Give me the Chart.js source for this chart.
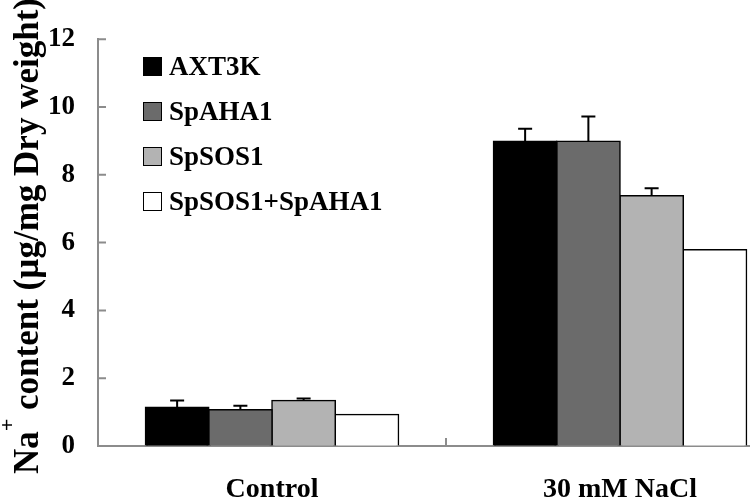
<!DOCTYPE html>
<html>
<head>
<meta charset="utf-8">
<script src="https://cdn.jsdelivr.net/npm/chart.js@4.4.0/dist/chart.umd.min.js"></script>
<style>
  html, body { margin: 0; padding: 0; background: #fff; overflow: hidden; width: 750px; height: 501px; }
  #wrap { position: relative; width: 800px; height: 501px; }
  #legend { position: absolute; left: 143px; top: 44px; font: bold 27px "Liberation Serif", "Times New Roman", serif; color: #000; }
  .item { display: flex; align-items: center; height: 45px; white-space: nowrap; }
  .box { width: 17px; height: 17px; border: 1px solid #000; margin-right: 7px; flex: none; }
</style>
</head>
<body>
<div id="wrap">
  <canvas id="naChart" width="800" height="501"></canvas>
  <div id="legend"></div>
</div>
<script>
// data
const categories = ['Control', '30 mM NaCl'];
const seriesNames = ['AXT3K', 'SpAHA1', 'SpSOS1', 'SpSOS1+SpAHA1'];
const axt3k = [1.14, 8.99];
const spaha1 = [1.07, 8.99];
const spsos1 = [1.34, 7.38];
const spsos1Spaha1 = [0.93, 5.79];
const axt3kErr = [0.20, 0.37];
const spaha1Err = [0.12, 0.73];
const spsos1Err = [0.06, 0.22];
const spsos1Spaha1Err = [0, 0];
const yTicks = [0, 2, 4, 6, 8, 10, 12];

const colors = ['#000000', '#6b6b6b', '#b3b3b3', '#ffffff'];
const values = [axt3k, spaha1, spsos1, spsos1Spaha1];
const errors = [axt3kErr, spaha1Err, spsos1Err, spsos1Spaha1Err];

const serif = '"Liberation Serif", "Times New Roman", serif';
const axisGray = '#8c8c8c';

// error bars on top of each bar (upper side only)
const errorBars = {
    id: 'errorBars',
    afterDatasetsDraw(chart) {
        const ctx = chart.ctx;
        const y = chart.scales.y;
        chart.data.datasets.forEach((ds, i) => {
            const meta = chart.getDatasetMeta(i);
            meta.data.forEach((bar, j) => {
                const e = ds.errors[j];
                if (!e) return;
                const top = y.getPixelForValue(ds.data[j] + e);
                ctx.save();
                ctx.strokeStyle = '#000';
                ctx.lineWidth = 2;
                ctx.beginPath();
                ctx.moveTo(bar.x, bar.y);
                ctx.lineTo(bar.x, top);
                ctx.moveTo(bar.x - 7, top);
                ctx.lineTo(bar.x + 7, top);
                ctx.stroke();
                ctx.restore();
            });
        });
    }
};

// inward tick marks (Excel style)
const innerTicks = {
    id: 'innerTicks',
    afterDraw(chart) {
        const ctx = chart.ctx;
        const x = chart.scales.x;
        const y = chart.scales.y;
        const area = chart.chartArea;
        ctx.save();
        ctx.strokeStyle = axisGray;
        ctx.lineWidth = 2;
        ctx.beginPath();
        yTicks.forEach(v => {
            const py = y.getPixelForValue(v);
            ctx.moveTo(area.left, py);
            ctx.lineTo(area.left + 8, py);
        });
        for (let i = 0; i < categories.length - 1; i++) {
            const px = (x.getPixelForValue(i) + x.getPixelForValue(i + 1)) / 2;
            ctx.moveTo(px, area.bottom);
            ctx.lineTo(px, area.bottom - 8);
        }
        ctx.stroke();
        ctx.restore();
    }
};

// rotated y title with superscript +
const yTitle = {
    id: 'yTitle',
    afterDraw(chart) {
        const ctx = chart.ctx;
        ctx.save();
        ctx.translate(38, 474);
        ctx.rotate(-Math.PI / 2);
        ctx.fillStyle = '#000';
        ctx.textBaseline = 'alphabetic';
        ctx.textAlign = 'left';
        ctx.font = 'bold 35px ' + serif;
        ctx.fillText('Na', 0, 0);
        let w = ctx.measureText('Na').width;
        ctx.font = 'bold 22px ' + serif;
        ctx.fillText('+', w, -24);
        w += ctx.measureText('+').width;
        ctx.font = 'bold 35px ' + serif;
        ctx.fillText(' content (µg/mg Dry weight)', w, 0);
        ctx.restore();
    }
};

function buildLegend(chart) {
    const el = document.getElementById('legend');
    chart.data.datasets.forEach(ds => {
        const item = document.createElement('div');
        item.className = 'item';
        const box = document.createElement('span');
        box.className = 'box';
        box.style.background = ds.backgroundColor;
        const txt = document.createElement('span');
        txt.textContent = ds.label;
        item.appendChild(box);
        item.appendChild(txt);
        el.appendChild(item);
    });
}

const ctx = document.getElementById('naChart').getContext('2d');
const chart = new Chart(ctx, {
    type: 'bar',
    data: {
        labels: categories,
        datasets: seriesNames.map((name, i) => ({
            label: name,
            data: values[i],
            errors: errors[i],
            backgroundColor: colors[i],
            borderColor: '#000',
            borderWidth: 1.5,
            borderSkipped: 'bottom',
            inflateAmount: 0.8,
            categoryPercentage: 0.727,
            barPercentage: 1.0,
        })),
    },
    options: {
        responsive: false,
        animation: false,
        devicePixelRatio: 1,
        layout: { padding: { left: 0, right: 6, top: 33, bottom: 0 } },
        plugins: {
            legend: { display: false },
            tooltip: { enabled: false },
        },
        scales: {
            x: {
                grid: { drawOnChartArea: false, drawTicks: false },
                border: { display: true, color: axisGray, width: 2 },
                ticks: {
                    color: '#000',
                    padding: 27,
                    font: { family: serif, size: 28, weight: 'bold' },
                },
                afterFit(scale) { scale.height = 55; },
            },
            y: {
                min: 0,
                max: 12,
                grid: { drawOnChartArea: false, drawTicks: false },
                border: { display: true, color: axisGray, width: 2 },
                ticks: {
                    stepSize: 2,
                    color: '#000',
                    padding: 23,
                    font: { family: serif, size: 27, weight: 'bold' },
                },
                afterFit(scale) { scale.width = 98; },
            },
        },
    },
    plugins: [errorBars, innerTicks, yTitle],
});
buildLegend(chart);
</script>
</body>
</html>
